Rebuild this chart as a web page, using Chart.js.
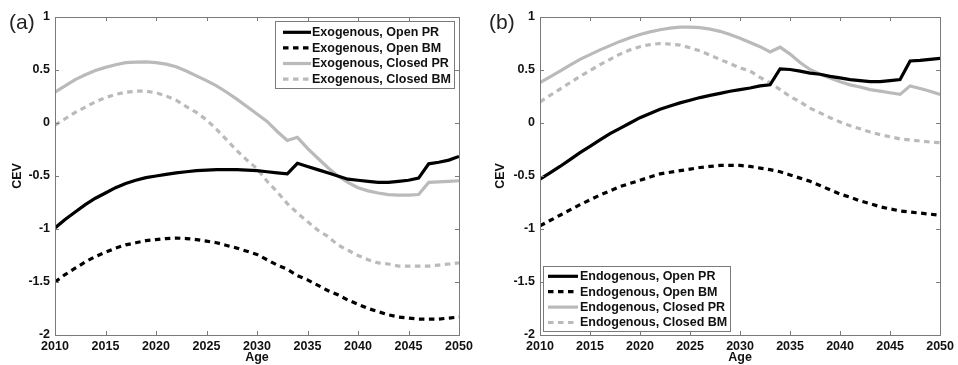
<!DOCTYPE html>
<html><head><meta charset="utf-8">
<script src="https://cdn.jsdelivr.net/npm/chart.js@4.4.1/dist/chart.umd.min.js"></script>
<style>
html,body{margin:0;padding:0;background:#fff;width:958px;height:365px;overflow:hidden;}
.panel{position:absolute;top:0;height:365px;width:479px;}
#wa{left:0;} #wb{left:479px;}
.lab{position:absolute;top:11px;font:21px "Liberation Sans",Arial,sans-serif;color:#222;line-height:21px;}
</style></head><body>
<div class="panel" id="wa"><canvas id="ca" width="479" height="365"></canvas></div>
<div class="panel" id="wb"><canvas id="cb" width="479" height="365"></canvas></div>
<div class="lab" style="left:9px">(a)</div>
<div class="lab" style="left:489px">(b)</div>
<script>
const years = [2010,2011,2012,2013,2014,2015,2016,2017,2018,2019,2020,2021,2022,2023,2024,2025,2026,2027,2028,2029,2030,2031,2032,2033,2034,2035,2036,2037,2038,2039,2040,2041,2042,2043,2044,2045,2046,2047,2048,2049,2050];

// Panel (a): Exogenous
const exoOpenPR   = [-0.99,-0.91,-0.84,-0.77,-0.71,-0.66,-0.61,-0.57,-0.54,-0.515,-0.50,-0.485,-0.47,-0.46,-0.45,-0.445,-0.44,-0.44,-0.44,-0.445,-0.45,-0.46,-0.47,-0.48,-0.38,-0.41,-0.44,-0.47,-0.50,-0.53,-0.54,-0.55,-0.56,-0.56,-0.55,-0.54,-0.52,-0.385,-0.37,-0.35,-0.315];
const exoOpenBM   = [-1.50,-1.43,-1.37,-1.31,-1.26,-1.22,-1.18,-1.15,-1.13,-1.11,-1.10,-1.09,-1.085,-1.09,-1.10,-1.115,-1.13,-1.155,-1.18,-1.21,-1.24,-1.29,-1.34,-1.38,-1.44,-1.48,-1.53,-1.58,-1.62,-1.67,-1.71,-1.75,-1.78,-1.81,-1.83,-1.84,-1.85,-1.85,-1.85,-1.84,-1.83];
const exoClosedPR = [0.29,0.35,0.41,0.455,0.495,0.525,0.55,0.57,0.575,0.577,0.57,0.555,0.53,0.49,0.445,0.40,0.35,0.29,0.225,0.155,0.085,0.015,-0.08,-0.165,-0.135,-0.24,-0.33,-0.42,-0.50,-0.56,-0.61,-0.64,-0.66,-0.675,-0.68,-0.68,-0.675,-0.56,-0.555,-0.55,-0.545];
const exoClosedBM = [-0.02,0.04,0.10,0.15,0.20,0.24,0.27,0.29,0.30,0.30,0.285,0.255,0.215,0.155,0.10,0.03,-0.06,-0.16,-0.26,-0.35,-0.43,-0.55,-0.65,-0.76,-0.85,-0.93,-1.01,-1.07,-1.15,-1.20,-1.25,-1.29,-1.32,-1.33,-1.35,-1.35,-1.35,-1.35,-1.34,-1.33,-1.32];

// Panel (b): Endogenous
const endoOpenPR   = [-0.53,-0.47,-0.41,-0.345,-0.28,-0.22,-0.16,-0.10,-0.05,0.00,0.05,0.09,0.13,0.16,0.19,0.215,0.24,0.26,0.28,0.30,0.315,0.33,0.35,0.36,0.51,0.505,0.49,0.47,0.46,0.44,0.425,0.41,0.40,0.39,0.39,0.40,0.41,0.585,0.59,0.60,0.61];
const endoOpenBM   = [-0.97,-0.92,-0.87,-0.82,-0.77,-0.725,-0.68,-0.64,-0.60,-0.57,-0.54,-0.51,-0.48,-0.465,-0.45,-0.435,-0.42,-0.41,-0.40,-0.40,-0.40,-0.41,-0.425,-0.44,-0.46,-0.49,-0.52,-0.55,-0.59,-0.63,-0.67,-0.70,-0.735,-0.76,-0.79,-0.81,-0.83,-0.84,-0.85,-0.86,-0.87];
const endoClosedPR = [0.38,0.435,0.49,0.545,0.60,0.645,0.69,0.73,0.77,0.805,0.835,0.86,0.88,0.895,0.905,0.905,0.90,0.885,0.865,0.835,0.80,0.76,0.72,0.67,0.715,0.65,0.57,0.505,0.46,0.425,0.39,0.36,0.34,0.315,0.30,0.285,0.27,0.35,0.325,0.30,0.27];
const endoClosedBM = [0.20,0.26,0.32,0.38,0.44,0.495,0.55,0.60,0.65,0.69,0.72,0.74,0.75,0.745,0.735,0.71,0.68,0.64,0.60,0.56,0.52,0.49,0.43,0.38,0.315,0.25,0.20,0.14,0.095,0.05,0.01,-0.025,-0.055,-0.085,-0.11,-0.13,-0.15,-0.16,-0.17,-0.18,-0.185];

const exoLabels  = ['Exogenous, Open PR','Exogenous, Open BM','Exogenous, Closed PR','Exogenous, Closed BM'];
const endoLabels = ['Endogenous, Open PR','Endogenous, Open BM','Endogenous, Closed PR','Endogenous, Closed BM'];
const xTicks = [2010,2015,2020,2025,2030,2035,2040,2045,2050];
const yTicks = [-2,-1.5,-1,-0.5,0,0.5,1];

const BLACK = '#000000', GREY = '#bababa', AXIS = '#7a7a7a', TEXT = '#111111';
const FONT = {family:'"Liberation Sans", Arial, sans-serif', size:12.5, weight:'bold'};
const FONTSTR = 'bold 12.5px "Liberation Sans", Arial, sans-serif';
const DASH = [5.5,4.5];
const styles = [
  {color:BLACK, dash:[]},
  {color:BLACK, dash:DASH},
  {color:GREY, dash:[]},
  {color:GREY, dash:DASH}
];

const framePlugin = {
  id:'frame',
  afterDatasetsDraw(chart){
    const {ctx, chartArea:a, scales:{x,y}} = chart;
    ctx.save();
    ctx.strokeStyle = AXIS; ctx.lineWidth = 1;
    ctx.strokeRect(Math.round(a.left)+0.5, Math.round(a.top)+0.5, Math.round(a.right-a.left), Math.round(a.bottom-a.top));
    ctx.beginPath();
    xTicks.forEach(t=>{ const px = Math.round(x.getPixelForValue(t))+0.5;
      ctx.moveTo(px,a.bottom); ctx.lineTo(px,a.bottom-4);
      ctx.moveTo(px,a.top); ctx.lineTo(px,a.top+4); });
    yTicks.forEach(t=>{ const py = Math.round(y.getPixelForValue(t))+0.5;
      ctx.moveTo(a.left,py); ctx.lineTo(a.left+4,py);
      ctx.moveTo(a.right,py); ctx.lineTo(a.right-4,py); });
    ctx.stroke();
    ctx.restore();
  }
};

const boxLegend = {
  id:'boxLegend',
  afterDraw(chart, args, o){
    const ctx = chart.ctx;
    ctx.save();
    ctx.fillStyle = '#fff';
    ctx.fillRect(o.x, o.y, o.w, o.h);
    ctx.strokeStyle = AXIS; ctx.lineWidth = 1;
    ctx.strokeRect(o.x+0.5, o.y+0.5, o.w, o.h);
    ctx.font = FONTSTR; ctx.textBaseline = 'middle'; ctx.textAlign = 'left';
    chart.data.datasets.forEach((ds,i)=>{
      const cy = o.y + o.row0 + i*o.gap;
      ctx.strokeStyle = ds.borderColor; ctx.lineWidth = 3.2;
      ctx.setLineDash(ds.borderDash || []);
      ctx.beginPath(); ctx.moveTo(o.x+o.sx, cy); ctx.lineTo(o.x+o.sx+o.sl, cy); ctx.stroke();
      ctx.setLineDash([]);
      ctx.fillStyle = TEXT;
      ctx.fillText(ds.label, o.x+o.tx, cy+0.5);
    });
    ctx.restore();
  }
};

function fmtY(v){ return v<0 ? '-'+String(Math.abs(v)) : String(v); }

function makeChart(id, labels, series, cfg){
  return new Chart(document.getElementById(id), {
    type:'line',
    data:{ datasets: series.map((vals,i)=>({
      label: labels[i],
      data: years.map((yr,k)=>({x:yr, y:vals[k]})),
      borderColor: styles[i].color, borderDash: styles[i].dash,
      borderWidth: 3.2, pointRadius: 0, tension: 0, fill: false,
      borderCapStyle: 'butt', borderJoinStyle: 'miter'
    }))},
    options:{
      responsive:false, animation:false, devicePixelRatio:1,
      layout:{padding:{top:17, right:cfg.right, left:0, bottom:0}},
      plugins:{ legend:{display:false}, tooltip:{enabled:false}, boxLegend: cfg.legend },
      scales:{
        x:{ type:'linear', min:2010, max:2050,
            afterBuildTicks: s => { s.ticks = xTicks.map(v=>({value:v})); },
            ticks:{ callback:v=>String(v), font:FONT, color:TEXT, padding:4, maxRotation:0, autoSkip:false },
            grid:{display:false, drawTicks:false}, border:{display:false},
            title:{display:true, text:'Age', font:FONT, color:TEXT, padding:0},
            afterFit: s => { s.height = 30; } },
        y:{ min:-2, max:1,
            afterBuildTicks: s => { s.ticks = yTicks.map(v=>({value:v})); },
            ticks:{ callback:fmtY, font:FONT, color:TEXT, padding:5 },
            grid:{display:false, drawTicks:false}, border:{display:false},
            title:{display:true, text:'CEV', font:FONT, color:TEXT, padding:{top:cfg.tp, bottom:0}},
            afterFit: s => { s.width = cfg.yw; } }
      }
    },
    plugins:[framePlugin, boxLegend]
  });
}

makeChart('ca', exoLabels, [exoOpenPR, exoOpenBM, exoClosedPR, exoClosedBM],
  {right:20, yw:55, tp:10, legend:{x:275, y:21, w:179, h:67, sx:8, sl:28, tx:37, row0:11.3, gap:15.6}});
makeChart('cb', endoLabels, [endoOpenPR, endoOpenBM, endoClosedPR, endoClosedBM],
  {right:15, yw:61, tp:14, legend:{x:64, y:266, w:187, h:65, sx:5, sl:30, tx:37, row0:10.3, gap:15.4}});
</script>
</body></html>
